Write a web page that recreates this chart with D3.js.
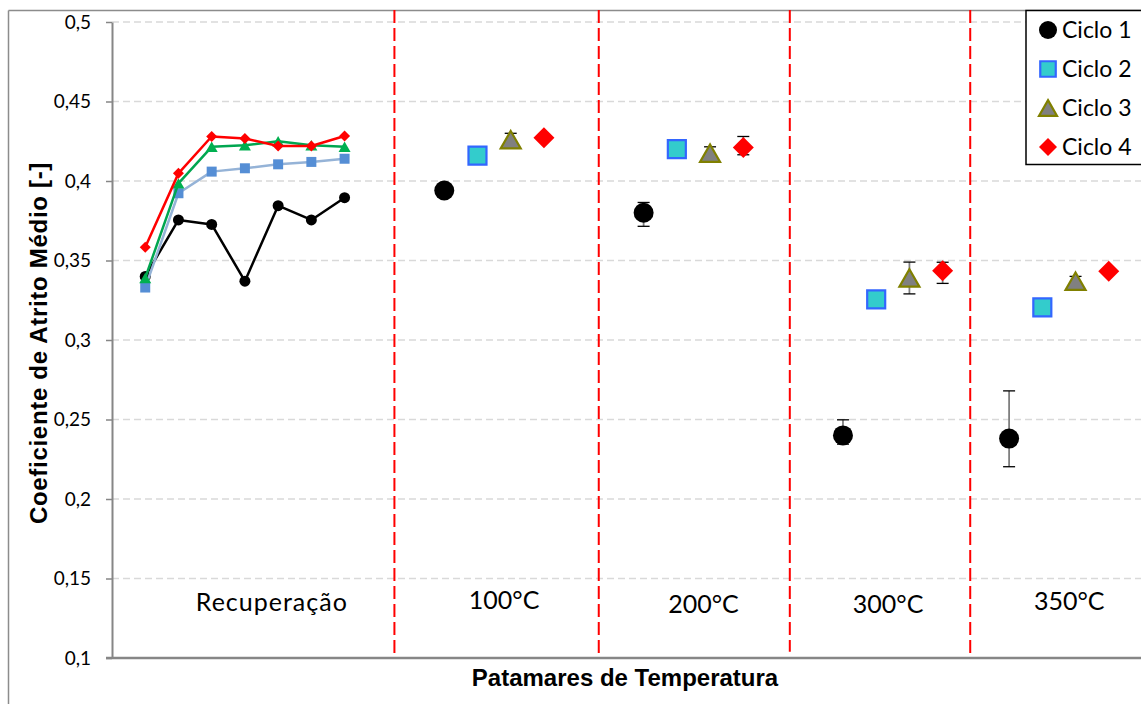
<!DOCTYPE html>
<html>
<head>
<meta charset="utf-8">
<script src="https://cdn.jsdelivr.net/npm/d3@7"></script>
<style>
  html, body { margin: 0; padding: 0; background: #fff; }
  svg { display: block; }
</style>
</head>
<body>
<svg id="chart" width="1141" height="704"></svg>
<script>
// ---- data ----
const seriesNames = ["Ciclo 1", "Ciclo 2", "Ciclo 3", "Ciclo 4"];

// recovery run: 7 consecutive measurements per cycle
const recoveryX = [1, 2, 3, 4, 5, 6, 7];
const recCiclo1 = [0.340, 0.3755, 0.3727, 0.337, 0.3845, 0.3755, 0.3895];
const recCiclo2 = [0.333, 0.3923, 0.4059, 0.408, 0.4105, 0.412, 0.414];
const recCiclo3 = [0.339, 0.3985, 0.4215, 0.4225, 0.425, 0.4225, 0.4215];
const recCiclo4 = [0.3583, 0.4048, 0.428, 0.4267, 0.422, 0.422, 0.4283];

// temperature plateaus: 100, 200, 300, 350 °C
const tempX = {
  "Ciclo 1": [10, 16, 22, 27],
  "Ciclo 2": [11, 17, 23, 28],
  "Ciclo 3": [12, 18, 24, 29],
  "Ciclo 4": [13, 19, 25, 30]
};
const tempCiclo1 = [0.394, 0.380, 0.240, 0.238];
const tempCiclo2 = [0.416, 0.420, 0.3256, 0.3205];
const tempCiclo3 = [0.426, 0.4175, 0.339, 0.337];
const tempCiclo4 = [0.4272, 0.421, 0.3436, 0.3432];

// error bar extents (plus / minus)
const errPlusCiclo1 = [0.002, 0.0065, 0.0098, 0.030];
const errMinusCiclo1 = [0.002, 0.0085, 0.0055, 0.0177];
const errPlusCiclo3 = [0.0040, 0.0040, 0.0100, 0.0030];
const errMinusCiclo3 = [0.0010, 0.0010, 0.0100, 0.0010];
const errPlusCiclo4 = [0.0010, 0.0070, 0.0053, 0.0015];
const errMinusCiclo4 = [0.0010, 0.0045, 0.0080, 0.0015];

// group captions and dividers
const groupLabels = ["Recuperação", "100°C", "200°C", "300°C", "350°C"];
const groupLabelX = [4.81, 11.8, 17.8, 23.36, 28.81];
const groupLabelY = [0.1297, 0.131, 0.1285, 0.1285, 0.130];
const dividerX = [8.5, 14.65, 20.4, 25.83];
const dividerBottom = [0.1, 0.1, 0.104, 0.1];
const dividerTop = 0.5075;

const yTicks = [0.1, 0.15, 0.2, 0.25, 0.3, 0.35, 0.4, 0.45, 0.5];
const yTitle = "Coeficiente de Atrito Médio [-]";
const xTitle = "Patamares de Temperatura";

// ---- scales ----
const svg = d3.select("#chart");
const x = d3.scaleLinear().domain([0, 31]).range([112, 1142]);
const y = d3.scaleLinear().domain([0.1, 0.5]).range([658, 22]);

const ptBR = d3.formatLocale({ decimal: ",", thousands: ".", grouping: [3], currency: ["R$", ""] });
const fmt = ptBR.format("~g");

const tickFont = "Lato, 'Open Sans', sans-serif";
const boldFont = "'Liberation Sans', Arial, sans-serif";

// chart frame (left and top edges visible)
svg.append("line").attr("x1", 8.5).attr("x2", 8.5).attr("y1", 10.5).attr("y2", 704)
  .attr("stroke", "#8c8c8c").attr("stroke-width", 1.5);
svg.append("line").attr("x1", 8.5).attr("x2", 1141).attr("y1", 10.5).attr("y2", 10.5)
  .attr("stroke", "#8c8c8c").attr("stroke-width", 1.5);

// gridlines
svg.append("g").selectAll("line")
  .data(yTicks.filter(t => t > 0.1))
  .join("line")
  .attr("x1", x(0)).attr("x2", x(31))
  .attr("y1", d => y(d)).attr("y2", d => y(d))
  .attr("stroke", "#d9d9d9").attr("stroke-width", 1.5)
  .attr("stroke-dasharray", "7,4");

// y axis
const yAxis = svg.append("g").attr("transform", `translate(${x(0)},0)`)
  .call(d3.axisLeft(y).tickValues(yTicks).tickFormat(fmt).tickSize(6).tickSizeOuter(0).tickPadding(15));
yAxis.select(".domain").attr("stroke", "#868686").attr("stroke-width", 2);
yAxis.selectAll(".tick line").attr("stroke", "#868686").attr("stroke-width", 1.5);
yAxis.selectAll(".tick text").attr("font-family", tickFont).attr("font-size", 19).attr("fill", "#000");

// x axis baseline
svg.append("line").attr("x1", x(0) - 6).attr("x2", x(31))
  .attr("y1", y(0.1)).attr("y2", y(0.1))
  .attr("stroke", "#868686").attr("stroke-width", 2.5);

// dividers between temperature plateaus
svg.append("g").selectAll("line")
  .data(dividerX)
  .join("line")
  .attr("x1", d => x(d)).attr("x2", d => x(d))
  .attr("y1", y(dividerTop)).attr("y2", (d, i) => y(dividerBottom[i]))
  .attr("stroke", "#ff0000").attr("stroke-width", 2)
  .attr("stroke-dasharray", "13,5");

// group captions
svg.append("g").selectAll("text")
  .data(groupLabels)
  .join("text")
  .attr("x", (d, i) => x(groupLabelX[i]))
  .attr("y", (d, i) => y(groupLabelY[i]))
  .attr("text-anchor", "middle")
  .attr("font-family", tickFont).attr("font-size", 25).attr("fill", "#000")
  .attr("letter-spacing", (d, i) => i === 0 ? 1 : 0)
  .text(d => d);

// marker shapes
function markerPath(shape, w) {
  const r = w / 2;
  if (shape === "circle") return d3.symbol(d3.symbolCircle, Math.PI * r * r)();
  if (shape === "square") return `M${-r},${-r}H${r}V${r}H${-r}Z`;
  if (shape === "triangle") {
    const h = w * 0.87;
    return `M0,${-h / 2}L${r},${h / 2}L${-r},${h / 2}Z`;
  }
  return `M0,${-r}L${r},0L0,${r}L${-r},0Z`;
}

const recStyles = [
  { vals: recCiclo1, line: "#000000", shape: "circle", w: 11, fill: "#000000" },
  { vals: recCiclo2, line: "#95b3d7", shape: "square", w: 10, fill: "#558ed5" },
  { vals: recCiclo3, line: "#00a650", shape: "triangle", w: 12, fill: "#00b050" },
  { vals: recCiclo4, line: "#ff0000", shape: "diamond", w: 11, fill: "#ff0000" }
];

const lineGen = d3.line().x((d, i) => x(recoveryX[i])).y(d => y(d));
const recG = svg.append("g");
recStyles.forEach(s => {
  recG.append("path").datum(s.vals)
    .attr("d", lineGen)
    .attr("fill", "none").attr("stroke", s.line).attr("stroke-width", 2.5)
    .attr("stroke-linejoin", "round");
  recG.append("g").selectAll("path")
    .data(s.vals)
    .join("path")
    .attr("transform", (d, i) => `translate(${x(recoveryX[i])},${y(d)})`)
    .attr("d", markerPath(s.shape, s.w))
    .attr("fill", s.fill);
});

// plateau markers with error bars
const tempStyles = [
  { name: "Ciclo 1", vals: tempCiclo1, shape: "circle", w: 20, fill: "#000000", stroke: "none", sw: 0, ep: errPlusCiclo1, em: errMinusCiclo1 },
  { name: "Ciclo 2", vals: tempCiclo2, shape: "square", w: 18, fill: "#33cccc", stroke: "#3366ff", sw: 2.2, ep: null, em: null },
  { name: "Ciclo 3", vals: tempCiclo3, shape: "triangle", w: 20, fill: "#808080", stroke: "#808000", sw: 2.2, ep: errPlusCiclo3, em: errMinusCiclo3 },
  { name: "Ciclo 4", vals: tempCiclo4, shape: "diamond", w: 21, fill: "#ff0000", stroke: "none", sw: 0, ep: errPlusCiclo4, em: errMinusCiclo4 }
];

const errG = svg.append("g");
const capW = 6;
tempStyles.forEach(s => {
  if (!s.ep) return;
  s.vals.forEach((v, i) => {
    const cx = x(tempX[s.name][i]);
    const yt = y(v + s.ep[i]), yb = y(v - s.em[i]);
    errG.append("line").attr("x1", cx).attr("x2", cx).attr("y1", yt).attr("y2", yb)
      .attr("stroke", "#7f7f7f").attr("stroke-width", 1.8);
    [yt, yb].forEach(yy => errG.append("line")
      .attr("x1", cx - capW).attr("x2", cx + capW).attr("y1", yy).attr("y2", yy)
      .attr("stroke", "#000").attr("stroke-width", 1.3));
  });
});

const tempG = svg.append("g");
tempStyles.forEach(s => {
  tempG.append("g").selectAll("path")
    .data(s.vals)
    .join("path")
    .attr("transform", (d, i) => `translate(${x(tempX[s.name][i])},${y(d)})`)
    .attr("d", markerPath(s.shape, s.w))
    .attr("fill", s.fill)
    .attr("stroke", s.stroke).attr("stroke-width", s.sw)
    .attr("stroke-linejoin", "miter");
});

// axis titles
svg.append("text")
  .attr("transform", "translate(47,343) rotate(-90)")
  .attr("text-anchor", "middle")
  .attr("font-family", boldFont).attr("font-weight", "bold").attr("font-size", 24)
  .attr("letter-spacing", 0.7)
  .attr("fill", "#000")
  .text(yTitle);

svg.append("text")
  .attr("x", 625).attr("y", 686)
  .attr("text-anchor", "middle")
  .attr("font-family", boldFont).attr("font-weight", "bold").attr("font-size", 24)
  .attr("fill", "#000")
  .text(xTitle);

// legend
const legend = svg.append("g");
legend.append("rect").attr("x", 1026).attr("y", 10.5).attr("width", 140).attr("height", 154)
  .attr("fill", "#fff").attr("stroke", "#000").attr("stroke-width", 1.5);
const legendRowY = [30, 69, 108, 147];
tempStyles.forEach((s, i) => {
  legend.append("path")
    .attr("transform", `translate(1048,${legendRowY[i]})`)
    .attr("d", markerPath(s.shape, s.shape === "square" ? 15.5 : 18))
    .attr("fill", s.fill).attr("stroke", s.stroke).attr("stroke-width", s.sw);
  legend.append("text")
    .attr("x", 1062).attr("y", legendRowY[i] + 8)
    .attr("font-family", tickFont).attr("font-size", 23).attr("fill", "#000")
    .text(seriesNames[i]);
});
</script>
</body>
</html>
